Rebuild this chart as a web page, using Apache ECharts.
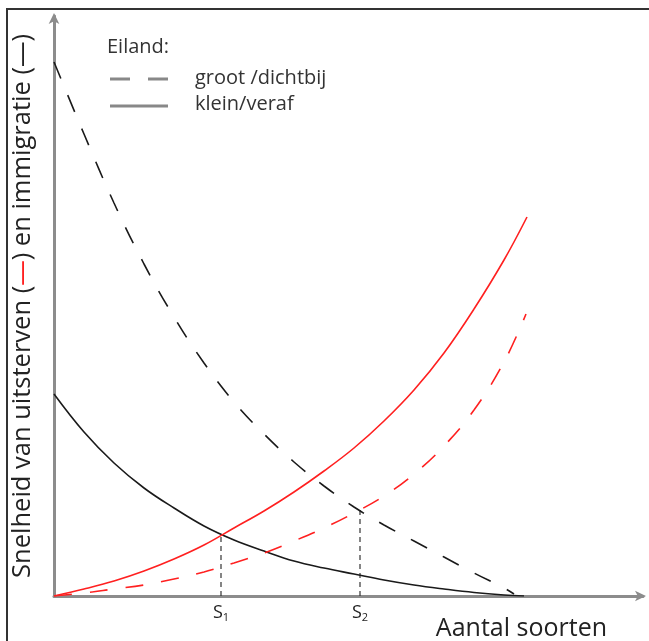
<!DOCTYPE html>
<html>
<head>
<meta charset="utf-8">
<script src="https://cdn.jsdelivr.net/npm/echarts@6/dist/echarts.min.js"></script>
<style>
html,body{margin:0;padding:0;background:#fff;}
#chart{width:649px;height:641px;}
</style>
</head>
<body>
<div id="chart"></div>
<script>
// Values (x: number of species, y: rate), arbitrary units
const immigrationGroot = [[0,534],[30,462],[60,393],[90,332],[120,279],[150,233],[180,194],[210,162],[240,134],[270,110],[300,89],[330,71],[360,55],[390,39],[420,23],[450,8],[460,2]];
const immigrationKlein = [[0,202],[30,164],[60,133],[90,108],[120,88],[150,70],[180,56],[210,45],[240,35],[270,28],[300,22],[330,16],[360,11],[390,7],[420,3.5],[450,1],[470,0]];
const extinctionKlein = [[0,0],[30,7],[60,15],[90,25],[120,37],[150,51],[180,68],[210,85],[240,104],[270,125],[300,148],[330,175],[360,206],[390,243],[420,287],[450,336],[473,379]];
const extinctionGroot = [[0,0],[30,3],[60,7],[90,11],[120,17],[150,24],[180,33],[210,43],[240,55],[270,68],[300,83],[330,100],[360,122],[390,150],[420,186],[450,234],[472,282]];
const equilibria = [167, 306];
const equilibriumRates = [61, 86];
const equilibriumLabels = ['1', '2'];
const xMax = 589, yMax = 580;

const chart = echarts.init(document.getElementById('chart'));
const axisLineStyle = {color:'#8c8c8c', width:3};
const font = 'Open Sans';

function curve(name, data, color, dashed){
  return {name:name, type:'line', data:data, smooth:0.4, showSymbol:false, symbol:'none',
    lineStyle:{color:color, width:1.6, type: dashed ? [18,18] : 'solid'}, z:3};
}

chart.setOption({
  animation:false,
  textStyle:{fontFamily:font},
  grid:{left:54, right:6, top:16, bottom:45},
  xAxis:{
    type:'value', min:0, max:xMax,
    splitLine:{show:false},
    axisTick:{show:false},
    axisLine:{show:true, onZero:false, lineStyle:axisLineStyle, symbol:['none','arrow'], symbolSize:[8,11], symbolOffset:[0,3]},
    axisLabel:{
      show:true, customValues:equilibria, margin:6,
      formatter:function(v){ const i = equilibria.indexOf(v); return '{s|S}{sub|' + equilibriumLabels[i] + '}'; },
      rich:{ s:{fontSize:18, color:'#222', fontFamily:font}, sub:{fontSize:11, color:'#222', fontFamily:font, verticalAlign:'bottom', padding:[10,0,0,0]} }
    },
    name:'Aantal soorten', nameLocation:'end', nameGap:-36,
    nameTextStyle:{fontSize:25, color:'#222', align:'right', verticalAlign:'top', padding:[20,0,0,0], fontFamily:font}
  },
  yAxis:{
    type:'value', min:0, max:yMax,
    splitLine:{show:false},
    axisTick:{show:false},
    axisLabel:{show:false},
    axisLine:{show:true, onZero:false, lineStyle:axisLineStyle, symbol:['none','arrow'], symbolSize:[8,11], symbolOffset:[0,3]},
    name:'{a|Snelheid van uitsterven (}{r|—}{a|) en immigratie (—)}',
    nameLocation:'middle', nameGap:18,
    nameTextStyle:{
      rich:{ a:{fontSize:25.5, color:'#222', fontFamily:font}, r:{fontSize:25.5, color:'#ff2020', fontFamily:font} }
    }
  },
  series:[
    curve('immigratie groot/dichtbij', immigrationGroot, '#1a1a1a', true),
    curve('immigratie klein/veraf', immigrationKlein, '#1a1a1a', false),
    curve('uitsterven klein/veraf', extinctionKlein, '#ff2020', false),
    curve('uitsterven groot/dichtbij', extinctionGroot, '#ff2020', true),
    {name:'S1', type:'line', data:[[equilibria[0],0],[equilibria[0],equilibriumRates[0]]], showSymbol:false, symbol:'none', lineStyle:{color:'#333', width:1.2, type:[5,4]}, z:2},
    {name:'S2', type:'line', data:[[equilibria[1],0],[equilibria[1],equilibriumRates[1]]], showSymbol:false, symbol:'none', lineStyle:{color:'#333', width:1.2, type:[5,4]}, z:2}
  ],
  graphic:[
    {type:'line', shape:{x1:7, y1:9, x2:649, y2:9}, style:{stroke:'#333', lineWidth:2}},
    {type:'line', shape:{x1:7, y1:8, x2:7, y2:641}, style:{stroke:'#333', lineWidth:2}},
    {type:'text', style:{x:107, y:47, text:'Eiland:', fontSize:20, fill:'#333', fontFamily:font, verticalAlign:'middle'}},
    {type:'line', shape:{x1:110, y1:79, x2:168, y2:79}, style:{stroke:'#888', lineWidth:3, lineDash:[20,18]}},
    {type:'text', style:{x:195, y:78, text:'groot /dichtbij', fontSize:20, fill:'#333', fontFamily:font, verticalAlign:'middle'}},
    {type:'line', shape:{x1:110, y1:106, x2:168, y2:106}, style:{stroke:'#888', lineWidth:3}},
    {type:'text', style:{x:195, y:104, text:'klein/veraf', fontSize:20, fill:'#333', fontFamily:font, verticalAlign:'middle'}}
  ]
});
</script>
</body>
</html>
